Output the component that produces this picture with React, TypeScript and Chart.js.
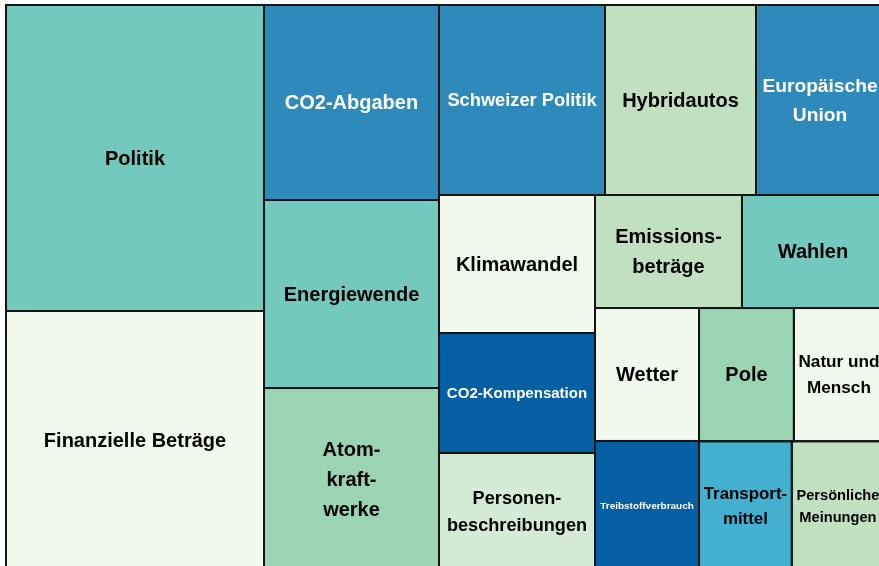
import React, { useEffect, useRef } from "react";
import { Chart, registerables } from "chart.js";

Chart.register(...registerables);

// Topics (label lines separated by "\n") and their sizes, in descending order
const topics = [
  "Politik",
  "Finanzielle Beträge",
  "CO2-Abgaben",
  "Energiewende",
  "Atom-\nkraft-\nwerke",
  "Schweizer Politik",
  "Hybridautos",
  "Europäische\nUnion",
  "Klimawandel",
  "CO2-Kompensation",
  "Personen-\nbeschreibungen",
  "Emissions-\nbeträge",
  "Wahlen",
  "Wetter",
  "Treibstoffverbrauch",
  "Pole",
  "Natur und\nMensch",
  "Transport-\nmittel",
  "Persönliche\nMeinungen",
];

const sizes = [
  78950, 66820, 34125, 32900, 31850, 31540, 28690, 24320, 21530, 18720, 18250,
  16610, 16050, 13830, 13420, 12640, 12000, 11950, 11870,
];

const TEAL = "#74c9be";
const BLUE = "#2e8abb";
const PALE = "#f1f8ec";
const GREEN = "#9ad4b0";
const MINT = "#c0e0c0";
const NAVY = "#045fa3";
const SKY = "#43b0d0";
const LIGHT = "#d4ebd4";

const fills = [
  TEAL, PALE, BLUE, TEAL, GREEN, BLUE, MINT, BLUE, PALE, NAVY, LIGHT, MINT,
  TEAL, PALE, NAVY, GREEN, PALE, SKY, MINT,
];

const darkFills = new Set([BLUE, NAVY]);

type Rect = { x: number; y: number; w: number; h: number };

function worst(row: number[], s: number): number {
  const sum = row.reduce((a, b) => a + b, 0);
  const mx = Math.max(...row);
  const mn = Math.min(...row);
  return Math.max((s * s * mx) / (sum * sum), (sum * sum) / (s * s * mn));
}

function squarify(values: number[], x0: number, y0: number, W: number, H: number): Rect[] {
  const total = values.reduce((a, b) => a + b, 0);
  const areas = values.map((v) => (v * W * H) / total);
  const out: Rect[] = [];
  let x = x0, y = y0, w = W, h = H;
  let row: number[] = [];
  const layoutRow = (r: number[]) => {
    const sum = r.reduce((a, b) => a + b, 0);
    if (w >= h) {
      const cw = sum / h;
      let yy = y;
      for (const a of r) {
        const ch = a / cw;
        out.push({ x, y: yy, w: cw, h: ch });
        yy += ch;
      }
      x += cw;
      w -= cw;
    } else {
      const ch = sum / w;
      let xx = x;
      for (const a of r) {
        const cw = a / ch;
        out.push({ x: xx, y, w: cw, h: ch });
        xx += cw;
      }
      y += ch;
      h -= ch;
    }
  };
  let i = 0;
  while (i < areas.length) {
    const s = Math.min(w, h);
    const a = areas[i];
    if (row.length === 0 || worst([...row, a], s) <= worst(row, s)) {
      row.push(a);
      i++;
    } else {
      layoutRow(row);
      row = [];
    }
  }
  if (row.length) layoutRow(row);
  return out;
}

const FONT = '"Liberation Sans", Arial, sans-serif';

const treemapPlugin = {
  id: "treemapCells",
  afterDraw(chart: any) {
    const ctx: CanvasRenderingContext2D = chart.ctx;
    const xs = chart.scales.x;
    const ys = chart.scales.y;
    const left = xs.getPixelForValue(0);
    const right = xs.getPixelForValue(1);
    const top = ys.getPixelForValue(1);
    const bottom = ys.getPixelForValue(0);
    const rects = squarify(sizes, left, top, right - left, bottom - top);
    ctx.save();
    rects.forEach((r, i) => {
      ctx.fillStyle = fills[i];
      ctx.fillRect(r.x, r.y, r.w, r.h);
    });
    ctx.strokeStyle = "#141414";
    ctx.lineWidth = 2;
    rects.forEach((r) => {
      ctx.strokeRect(r.x, r.y, r.w, r.h);
    });
    rects.forEach((r, i) => {
      const lines = topics[i].split("\n");
      ctx.font = `bold 100px ${FONT}`;
      const maxW = Math.max(...lines.map((l) => ctx.measureText(l).width)) / 100;
      let size = Math.min(20, (0.9 * r.w) / maxW);
      const lh = size * 1.5;
      if (lh * lines.length > r.h * 0.9) size = (r.h * 0.9) / (1.5 * lines.length);
      const lineH = size * 1.5;
      ctx.font = `bold ${size}px ${FONT}`;
      ctx.fillStyle = darkFills.has(fills[i]) ? "#ffffff" : "#000000";
      ctx.textAlign = "center";
      ctx.textBaseline = "middle";
      const cx = r.x + r.w / 2;
      const cy = r.y + r.h / 2 + 1;
      lines.forEach((l, k) => {
        ctx.fillText(l, cx, cy + (k - (lines.length - 1) / 2) * lineH);
      });
    });
    ctx.restore();
  },
};

export default function App() {
  const ref = useRef<HTMLCanvasElement | null>(null);
  useEffect(() => {
    if (!ref.current) return;
    const chart = new Chart(ref.current, {
      type: "scatter",
      data: { datasets: [{ data: [], pointRadius: 0 }] },
      options: {
        animation: false,
        responsive: false,
        maintainAspectRatio: false,
        devicePixelRatio: 1,
        layout: { padding: 2 },
        scales: {
          x: { type: "linear", min: 0, max: 1, display: false },
          y: { type: "linear", min: 0, max: 1, display: false },
        },
        plugins: { legend: { display: false }, tooltip: { enabled: false } },
      },
      plugins: [treemapPlugin],
    } as any);
    return () => chart.destroy();
  }, []);
  return (
    <div
      style={{
        position: "fixed",
        left: 0,
        top: 0,
        width: 879,
        height: 566,
        overflow: "hidden",
        background: "#ffffff",
      }}
    >
      <canvas
        ref={ref}
        width={882}
        height={569}
        style={{ position: "absolute", left: 4, top: 3, width: 882, height: 569 }}
      />
    </div>
  );
}
